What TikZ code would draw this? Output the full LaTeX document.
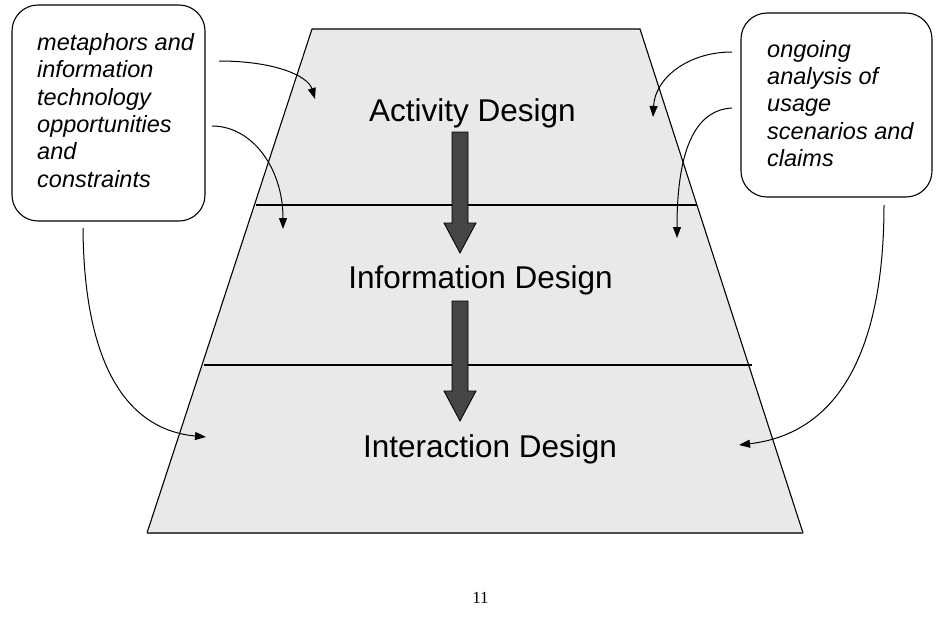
\documentclass[tikz,border=0pt]{standalone}
\usepackage{fontspec}
\setmainfont{Liberation Sans}
\newfontfamily\pagefont{Liberation Serif}
\usetikzlibrary{arrows.meta}
\definecolor{trapfill}{HTML}{E9E9E9}
\definecolor{blockfill}{HTML}{454545}
\tikzset{
  layer/.style={font=\fontsize{31.5}{36}\selectfont, anchor=base, inner sep=0pt},
  notebox/.style={draw, line width=1.1pt, rounded corners=26pt, inner sep=0pt},
  notetext/.style={font=\fontsize{23.5}{27.3}\selectfont\itshape, align=left, anchor=base west, inner sep=0pt},
  feed/.style={line width=1pt, -{Triangle[length=11pt,width=8pt]}},
  blockarrow/.style={draw=black, line width=0.8pt, fill=blockfill},
}
\begin{document}
\begin{tikzpicture}[x=1pt,y=-1pt]
\useasboundingbox (0,0) rectangle (940,616);
% trapezoid
\fill[trapfill] (312,29) -- (640,29) -- (803,533) -- (147,533) -- cycle;
\draw[line width=1.1pt] (147,533) -- (312,29) -- (640,29) -- (803,533);
\draw[line width=1.6pt, black!70] (147,533) -- (803,533);
\draw[line width=1.1pt] (256,205) -- (697,205);
\draw[line width=1.1pt] (204,365) -- (752,365);
% layer labels
\node[layer] (act) at (472.5,121) {Activity Design};
\node[layer] (inf) at (480.5,288) {Information Design};
\node[layer] (int) at (490,457) {Interaction Design};
% block arrows
\draw[blockarrow] (452,132) -- (468,132) -- (468,223) -- (476,223) -- (460,253) -- (444,223) -- (452,223) -- cycle;
\draw[blockarrow] (452,301) -- (468,301) -- (468,391) -- (476,391) -- (460,421) -- (444,391) -- (452,391) -- cycle;
% note boxes
\node[notebox, minimum width=193pt, minimum height=216pt] (lbox) at (108.5,113) {};
\node[notetext] (ltext) at (37,187) {metaphors and\\information\\technology\\opportunities\\and\\constraints};
\node[notebox, minimum width=191pt, minimum height=184pt] (rbox) at (836.5,105) {};
\node[notetext] (rtext) at (767,166.5) {ongoing\\analysis of\\usage\\scenarios and\\claims};
% connector end points
\coordinate (l1s) at (219,61);
\coordinate (l1e) at (315,99);
\coordinate (l2s) at (212,126);
\coordinate (l2e) at (283,229);
\coordinate (l3s) at (83,228);
\coordinate (l3e) at (206,437);
\coordinate (r1s) at (732,52);
\coordinate (r1e) at (653,117);
\coordinate (r2s) at (732,108);
\coordinate (r2e) at (677,238);
\coordinate (r3s) at (884,205);
\coordinate (r3e) at (739,445);
\draw[feed] (l1s) .. controls (275,61) and (308,76) .. (l1e);
\draw[feed] (l2s) .. controls (252,126) and (283,168) .. (l2e);
\draw[feed] (l3s) .. controls (84,370) and (130,430) .. (l3e);
\draw[feed] (r1s) .. controls (688,52) and (655,78) .. (r1e);
\draw[feed] (r2s) .. controls (695,110) and (677,150) .. (r2e);
\draw[feed] (r3s) .. controls (884,330) and (850,432) .. (r3e);
% page number
\node[font=\pagefont\fontsize{17}{20}\selectfont, anchor=base, inner sep=0pt] (pnum) at (480.5,603) {11};
\end{tikzpicture}
\end{document}
